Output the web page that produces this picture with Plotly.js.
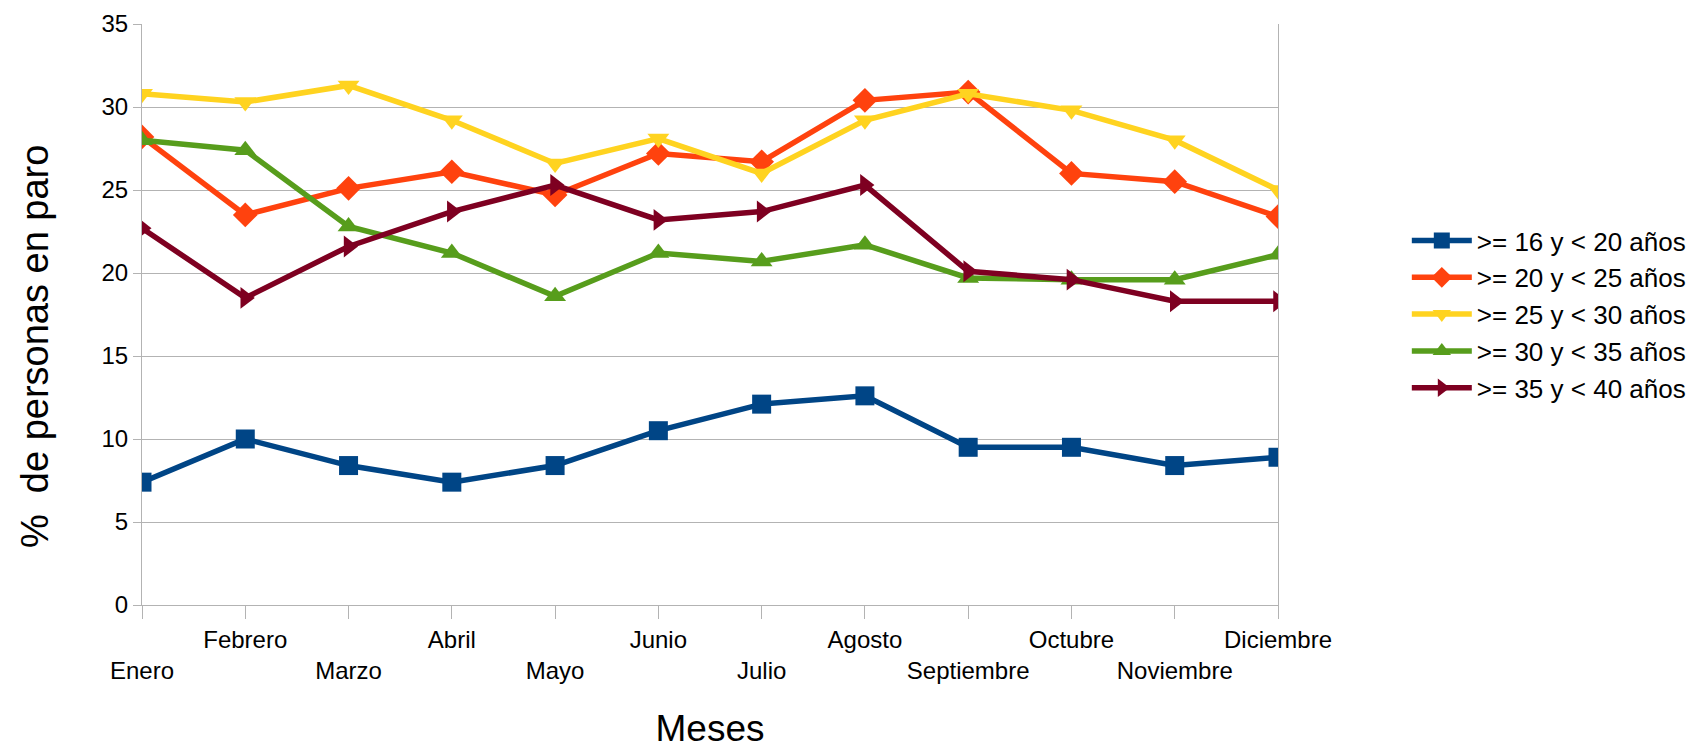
<!DOCTYPE html>
<html>
<head>
<meta charset="utf-8">
<script src="https://cdn.plot.ly/plotly-3.0.1.min.js"></script>
<style>
  html, body { margin: 0; padding: 0; background: #fff; }
  #chart { width: 1697px; height: 749px; }
</style>
</head>
<body>
<div id="chart"></div>
<script>
const months = ['Enero', 'Febrero', 'Marzo', 'Abril', 'Mayo', 'Junio', 'Julio',
  'Agosto', 'Septiembre', 'Octubre', 'Noviembre', 'Diciembre'];
const seriesNames = ['>= 16 y < 20 años', '>= 20 y < 25 años', '>= 25 y < 30 años',
  '>= 30 y < 35 años', '>= 35 y < 40 años'];
const age16to20 = [7.4, 10.0, 8.4, 7.4, 8.4, 10.5, 12.1, 12.6, 9.5, 9.5, 8.4, 8.9];
const age20to25 = [28.2, 23.5, 25.1, 26.1, 24.7, 27.2, 26.7, 30.4, 30.9, 26.0, 25.5, 23.4];
const age25to30 = [30.8, 30.3, 31.3, 29.2, 26.6, 28.1, 26.0, 29.2, 30.8, 29.8, 28.0, 25.0];
const age30to35 = [28.0, 27.4, 22.8, 21.2, 18.6, 21.2, 20.7, 21.7, 19.7, 19.6, 19.6, 21.1];
const age35to40 = [22.7, 18.5, 21.6, 23.7, 25.3, 23.2, 23.7, 25.3, 20.1, 19.6, 18.3, 18.3];
const yTicks = [0, 5, 10, 15, 20, 25, 30, 35];

const colors = ['#004586', '#ff420e', '#ffd320', '#579d1c', '#7e0021'];
const symbols = ['square', 'diamond', 'triangle-down', 'triangle-up', 'triangle-right'];
const allValues = [age16to20, age20to25, age25to30, age30to35, age35to40];

const traces = allValues.map((vals, i) => ({
  x: months,
  y: vals,
  name: seriesNames[i],
  type: 'scatter',
  mode: 'lines+markers',
  line: { color: colors[i], width: 5.5 },
  marker: { symbol: symbols[i], size: 19, color: colors[i] }
}));

// staggered month labels: odd ones on the top row, even ones on the bottom row
const tickText = months.map((m, i) => i % 2 === 0 ? '&nbsp;<br>' + m : m);

const layout = {
  width: 1697,
  height: 749,
  margin: { l: 142, r: 419, t: 24, b: 144 },
  paper_bgcolor: '#ffffff',
  plot_bgcolor: '#ffffff',
  font: { family: '"Liberation Sans", Arial, sans-serif', size: 24, color: '#000' },
  showlegend: true,
  legend: {
    xref: 'container', yref: 'container',
    x: 0.829, y: 0.58, xanchor: 'left', yanchor: 'middle',
    font: { size: 26 }, tracegroupgap: 0, itemwidth: 60
  },
  xaxis: {
    type: 'category',
    range: [0, 11],
    tickvals: months,
    ticktext: tickText,
    tickangle: 0,
    ticks: 'outside', ticklen: 13, tickcolor: '#b3b3b3',
    showgrid: false,
    showline: true, linecolor: '#b3b3b3', linewidth: 1,
    zeroline: false,
    automargin: false,
    tickfont: { size: 24 },
    title: { text: 'Meses', font: { size: 37 }, standoff: 38 }
  },
  yaxis: {
    range: [0, 35],
    tickvals: yTicks,
    ticks: 'outside', ticklen: 8, tickcolor: '#b3b3b3',
    showgrid: true, gridcolor: '#b3b3b3', gridwidth: 1,
    showline: true, linecolor: '#b3b3b3', linewidth: 1, mirror: true,
    zeroline: false,
    automargin: false,
    tickfont: { size: 24 }
  },
  // y title sits a bit below the plot's middle in the reference, so it is an annotation
  annotations: [{
    text: '%&nbsp; de personas en paro',
    xref: 'paper', yref: 'paper',
    x: -0.094, y: 0.446,
    xanchor: 'center', yanchor: 'middle',
    textangle: -90,
    showarrow: false,
    font: { size: 38 }
  }]
};

Plotly.newPlot('chart', traces, layout, { displayModeBar: false });
</script>
</body>
</html>
